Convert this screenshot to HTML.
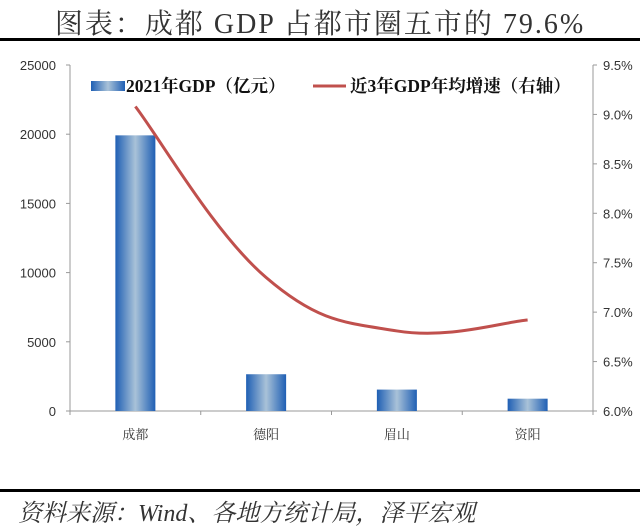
<!DOCTYPE html>
<html><head><meta charset="utf-8"><style>
body{margin:0;background:#fff;}
svg{display:block;}
</style></head><body>
<svg width="640" height="532" xmlns="http://www.w3.org/2000/svg">
<defs>
<linearGradient id="bg" x1="0" x2="1" y1="0" y2="0">
<stop offset="0" stop-color="#1f5fb4"/><stop offset="0.5" stop-color="#a9c2d8"/><stop offset="1" stop-color="#1f5fb4"/>
</linearGradient>
</defs>
<text x="320" y="33" text-anchor="middle" font-family="'Liberation Serif','Noto Serif CJK SC',serif" font-size="28" letter-spacing="2" fill="#333">图表：成都 GDP 占都市圈五市的 79.6%</text>
<rect x="0" y="38" width="640" height="3" fill="#000"/>
<rect x="0" y="489" width="640" height="3" fill="#000"/>
<text x="18" y="521" font-family="'Liberation Serif','Noto Serif CJK SC',serif" font-style="italic" font-size="24" fill="#333">资料来源：Wind、各地方统计局，泽平宏观</text>
<g id="plot"></g>
</svg>
<script>
const categories=['成都','德阳','眉山','资阳'];
const gdpValues=[19917,2656,1547,890];
const growthValues=[9.08,7.35,6.81,6.92];
const leftTicks=[0,5000,10000,15000,20000,25000];
const rightTicks=[6.0,6.5,7.0,7.5,8.0,8.5,9.0,9.5];
const NS='http://www.w3.org/2000/svg';
const g=document.getElementById('plot');
const X0=70,X1=593,Y0=411,Y1=65;
const yL=v=>Y0-(v-0)/25000*(Y0-Y1);
const yR=v=>Y0-(v-6)/3.5*(Y0-Y1);
const band=(X1-X0)/categories.length;
const xC=i=>X0+band*(i+0.5);
function mk(t,a){const e=document.createElementNS(NS,t);for(const k in a)e.setAttribute(k,a[k]);g.appendChild(e);return e;}
const F="'Liberation Sans','Noto Sans CJK SC',sans-serif";
let e;
e=mk('line',{x1:X0,y1:Y1,x2:X0,y2:Y0,stroke:'#999'});


e=mk('line',{x1:X1,y1:Y1,x2:X1,y2:Y0,stroke:'#999'});


e=mk('line',{x1:X0,y1:Y0,x2:X1,y2:Y0,stroke:'#999'});


leftTicks.forEach(v=>{
 mk('line',{x1:X0-4,y1:yL(v),x2:X0,y2:yL(v),stroke:'#999'});
 e=mk('text',{x:X0-14,y:yL(v)+5,'text-anchor':'end','font-family':F,'font-size':13,fill:'#333'});
 e.textContent=v;
 
 
});
rightTicks.forEach(v=>{
 mk('line',{x1:X1,y1:yR(v),x2:X1+4,y2:yR(v),stroke:'#999'});
 e=mk('text',{x:X1+10,y:yR(v)+5,'font-family':F,'font-size':13,fill:'#333'});
 e.textContent=v.toFixed(1)+'%';
 
 
});
for(let i=0;i<=categories.length;i++)mk('line',{x1:X0+band*i,y1:Y0,x2:X0+band*i,y2:Y0+4,stroke:'#999'});
categories.forEach((c,i)=>{
 e=mk('rect',{x:xC(i)-20,y:yL(gdpValues[i]),width:40,height:Y0-yL(gdpValues[i]),fill:'url(#bg)'});
 
 
 e=mk('text',{x:xC(i),y:Y0+28,'text-anchor':'middle','font-family':"'Liberation Serif','Noto Serif CJK SC',serif",'font-size':13,fill:'#333'});
 e.textContent=c;
 
 
});
const pts=growthValues.map((v,i)=>[xC(i),yR(v)]);
let d='M'+pts[0][0]+','+pts[0][1];
for(let i=0;i<pts.length-1;i++){
 const p0=pts[Math.max(0,i-1)],p1=pts[i],p2=pts[i+1],p3=pts[Math.min(pts.length-1,i+2)];
 const t=0.2;
 d+=` C${p1[0]+(p2[0]-p0[0])*t},${p1[1]+(p2[1]-p0[1])*t} ${p2[0]-(p3[0]-p1[0])*t},${p2[1]-(p3[1]-p1[1])*t} ${p2[0]},${p2[1]}`;
}
e=mk('path',{d:d,fill:'none',stroke:'#c0504d','stroke-width':3});


e=mk('rect',{x:91,y:81,width:34,height:10,fill:'url(#bg)'});


e=mk('text',{x:126,y:92,'font-family':"'Liberation Serif','Noto Serif CJK SC',serif",'font-weight':'bold','font-size':17.5,fill:'#111'});
e.textContent='2021年GDP（亿元）';


e=mk('line',{x1:313,y1:86,x2:346,y2:86,stroke:'#c0504d','stroke-width':3});


e=mk('text',{x:350,y:92,'font-family':"'Liberation Serif','Noto Serif CJK SC',serif",'font-weight':'bold','font-size':17.5,fill:'#111'});
e.textContent='近3年GDP年均增速（右轴）';


</script>
</body></html>
